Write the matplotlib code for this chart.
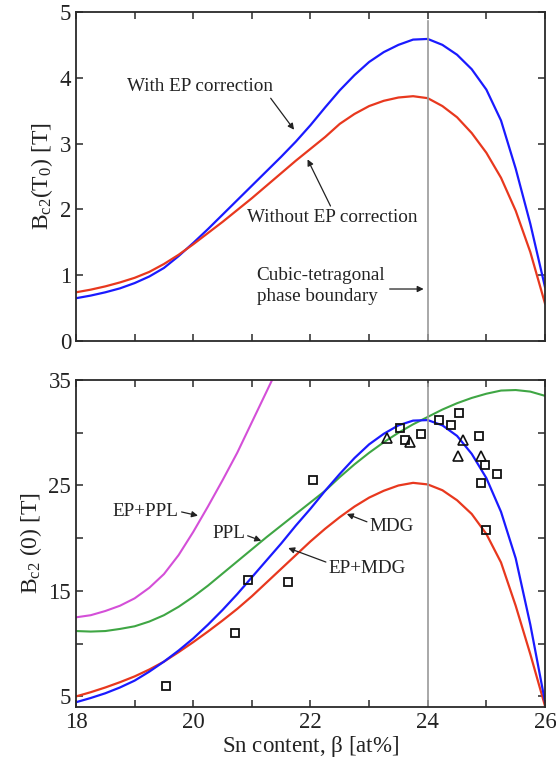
import matplotlib
matplotlib.use("Agg")
import matplotlib.pyplot as plt
import numpy as np

plt.rcParams['font.family'] = ['Liberation Serif', 'DejaVu Serif']
plt.rcParams['mathtext.fontset'] = 'custom'
plt.rcParams['mathtext.rm'] = 'Liberation Serif'
plt.rcParams['mathtext.it'] = 'Liberation Serif'

# ---------------- data: top panel Bc2(T0) ----------------
x_top = [18, 18.25, 18.5, 18.75, 19, 19.25, 19.5, 19.75, 20, 20.25, 20.5, 20.75,
         21, 21.25, 21.5, 21.75, 22, 22.25, 22.5, 22.75, 23, 23.25, 23.5, 23.75,
         24, 24.25, 24.5, 24.75, 25, 25.25, 25.5, 25.75, 26]
bc2T0_with_ep = [0.65, 0.69, 0.74, 0.80, 0.88, 0.98, 1.11, 1.29, 1.49, 1.70, 1.92, 2.14,
                 2.36, 2.58, 2.80, 3.03, 3.28, 3.55, 3.81, 4.04, 4.24, 4.39, 4.50, 4.58,
                 4.59, 4.50, 4.35, 4.13, 3.82, 3.35, 2.62, 1.78, 0.82]
bc2T0_without_ep = [0.74, 0.78, 0.83, 0.89, 0.96, 1.05, 1.17, 1.31, 1.47, 1.64, 1.81, 1.99,
                    2.17, 2.36, 2.55, 2.74, 2.92, 3.10, 3.30, 3.45, 3.57, 3.65, 3.70, 3.72,
                    3.69, 3.57, 3.40, 3.16, 2.86, 2.48, 1.98, 1.35, 0.57]

# ---------------- data: bottom panel Bc2(0) ----------------
x_bot = x_top
mdg = [5.0, 5.4, 5.85, 6.35, 6.9, 7.55, 8.3, 9.2, 10.15, 11.15, 12.2, 13.3,
       14.5, 15.8, 17.1, 18.4, 19.7, 20.9, 22.0, 23.0, 23.85, 24.5, 25.0, 25.25,
       25.1, 24.55, 23.6, 22.3, 20.4, 17.7, 13.6, 9.0, 4.1]
ep_mdg = [4.45, 4.85, 5.3, 5.85, 6.5, 7.35, 8.3, 9.35, 10.5, 11.8, 13.2, 14.7,
          16.3, 17.9, 19.5, 21.2, 22.8, 24.5, 26.1, 27.6, 28.9, 29.9, 30.7, 31.15,
          31.2, 30.7, 29.7, 28.0, 25.7, 22.5, 18.1, 11.8, 4.5]
ppl = [11.2, 11.15, 11.2, 11.4, 11.65, 12.1, 12.7, 13.5, 14.45, 15.5, 16.65, 17.8,
       18.95, 20.1, 21.2, 22.3, 23.4, 24.5, 25.8, 27.0, 28.1, 29.1, 30.0, 30.8,
       31.5, 32.2, 32.8, 33.3, 33.7, 34.0, 34.05, 33.9, 33.5]
x_eppl = [18, 18.25, 18.5, 18.75, 19, 19.25, 19.5, 19.75, 20, 20.25, 20.5, 20.75,
          21, 21.25, 21.5]
ep_ppl = [12.5, 12.7, 13.1, 13.6, 14.3, 15.3, 16.6, 18.4, 20.6, 23.0, 25.5, 28.1,
          31.0, 33.9, 36.8]

# experimental data
sq_x = [19.53, 20.72, 20.94, 21.62, 22.05, 23.52, 23.61, 23.88, 24.19, 24.40, 24.53,
        24.87, 24.97, 24.90, 25.18, 25.00]
sq_y = [5.98, 10.97, 16.05, 15.86, 25.48, 30.43, 29.32, 29.92, 31.23, 30.71, 31.83,
        29.67, 26.94, 25.26, 26.05, 20.74]
tri_x = [23.30, 23.70, 24.60, 24.52, 24.90]
tri_y = [29.54, 29.13, 29.29, 27.79, 27.79]

phase_boundary = 24.0

BLUE = '#1a1aff'
RED = '#e8381e'
GREEN = '#3fa644'
MAGENTA = '#d44fd8'
GREY = '#9a9a9a'
SPINE = '#2a2a2a'
TXT = '#222222'

fig = plt.figure(figsize=(5.56, 7.62), dpi=100)
ax1 = fig.add_axes([0.1367, 0.5525, 0.8435, 0.4318])
ax2 = fig.add_axes([0.1367, 0.0722, 0.8435, 0.4291])


def style(ax):
    for s in ax.spines.values():
        s.set_color(SPINE)
        s.set_linewidth(1.3)
    ax.tick_params(direction='in', length=5, width=1.1, colors=SPINE,
                   top=True, right=True, labelsize=16.5, labelcolor=TXT)


# ---- top panel ----
ax1.plot(x_top, bc2T0_with_ep, color=BLUE, lw=1.6)
ax1.plot(x_top, bc2T0_without_ep, color=RED, lw=1.6)
ax1.plot([phase_boundary, phase_boundary], [0, 4.86], color=GREY, lw=1.2)
ax1.set_xlim(18, 26)
ax1.set_ylim(0, 5)
ax1.set_xticks(np.arange(18, 27, 1))
ax1.set_xticklabels([])
ax1.set_yticks([0, 1, 2, 3, 4, 5])
style(ax1)
ax1.set_ylabel(r'B$_{\mathrm{c2}}$(T$_{\mathrm{0}}$) [T]', fontsize=17, color=TXT,
               labelpad=3)

FS = 13.8
akw = dict(arrowstyle='-|>', color=TXT, lw=0.9, mutation_scale=9)
ax1.annotate('With EP correction', xy=(21.72, 3.21), xytext=(18.87, 3.86),
             fontsize=FS, color=TXT, va='center', ha='left',
             arrowprops=dict(akw, shrinkA=0, shrinkB=0, relpos=(0.97, 0.0)))
ax1.annotate('Without EP correction', xy=(21.95, 2.76), xytext=(20.91, 1.88),
             fontsize=FS, color=TXT, va='center', ha='left',
             arrowprops=dict(akw, shrinkA=0, shrinkB=0, relpos=(0.5, 1.0)))
ax1.text(21.08, 0.99, 'Cubic-tetragonal', fontsize=FS, color=TXT, va='center')
ax1.text(21.08, 0.67, 'phase boundary', fontsize=FS, color=TXT, va='center')
ax1.annotate('', xy=(23.93, 0.79), xytext=(23.35, 0.79),
             arrowprops=dict(akw, shrinkA=0, shrinkB=0))

# ---- bottom panel ----
ax2.plot(x_eppl, ep_ppl, color=MAGENTA, lw=1.5)
ax2.plot(x_bot, ppl, color=GREEN, lw=1.5)
ax2.plot(x_bot, mdg, color=RED, lw=1.6)
ax2.plot(x_bot, ep_mdg, color=BLUE, lw=1.6)
ax2.plot([phase_boundary, phase_boundary], [4, 34.6], color=GREY, lw=1.2)
ax2.plot(sq_x, sq_y, ls='none', marker='s', ms=5.2, mfc='none', mec='#111111', mew=1.3)
ax2.plot(tri_x, tri_y, ls='none', marker='^', ms=7, mfc='none', mec='#111111', mew=1.2)
ax2.set_xlim(18, 26)
ax2.set_ylim(4, 35)
ax2.set_xticks(np.arange(18, 27, 1))
ax2.set_xticklabels(['18', '', '20', '', '22', '', '24', '', '26'])
ax2.set_yticks([5, 10, 15, 20, 25, 30, 35])
ax2.set_yticklabels(['5', '', '15', '', '25', '', '35'])
style(ax2)
ax2.set_ylabel(r'B$_{\mathrm{c2}}$ (0) [T]', fontsize=17, color=TXT, labelpad=3)
ax2.set_xlabel(r'Sn content, $\mathrm{\beta}$ [at%]', fontsize=16.5, color=TXT,
               labelpad=1)

ax2.annotate('EP+PPL', xy=(20.08, 22.14), xytext=(18.63, 22.55),
             fontsize=FS, color=TXT, va='center', ha='left',
             arrowprops=dict(akw, shrinkA=0, shrinkB=0, relpos=(1.0, 0.5)))
ax2.annotate('PPL', xy=(21.16, 19.76), xytext=(20.32, 20.49),
             fontsize=FS, color=TXT, va='center', ha='left',
             arrowprops=dict(akw, shrinkA=0, shrinkB=0, relpos=(1.0, 0.4)))
ax2.annotate('MDG', xy=(22.62, 22.3), xytext=(23.01, 21.13),
             fontsize=FS, color=TXT, va='center', ha='left',
             arrowprops=dict(akw, shrinkA=0, shrinkB=0, relpos=(0.0, 0.7)))
ax2.annotate('EP+MDG', xy=(21.62, 19.07), xytext=(22.31, 17.16),
             fontsize=FS, color=TXT, va='center', ha='left',
             arrowprops=dict(akw, shrinkA=0, shrinkB=0, relpos=(0.0, 0.8)))

fig.savefig('out.png', dpi=100)
